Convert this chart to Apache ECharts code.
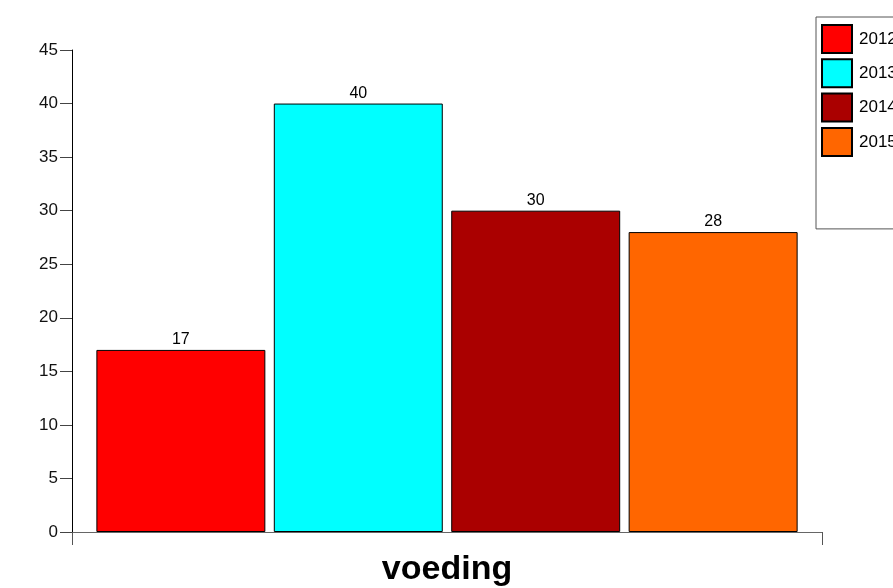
<!DOCTYPE html>
<html><head><meta charset="utf-8">
<script src="https://cdn.jsdelivr.net/npm/echarts@6/dist/echarts.min.js"></script>
<style>html,body{margin:0;padding:0;background:#fff}#c{width:893px;height:588px}</style>
</head><body><div id="c"></div>
<script>
const categories = ['voeding'];
const seriesNames = ['2012', '2013', '2014', '2015'];
const seriesValues = [[17], [40], [30], [28]];
const seriesColors = ['#FF0000', '#00FFFF', '#AA0000', '#FF6600'];
const yTicks = [0, 5, 10, 15, 20, 25, 30, 35, 40, 45];

const chart = echarts.init(document.getElementById('c'), null, {renderer: 'canvas'});
const font = 'Liberation Sans, Arial, sans-serif';
chart.setOption({
  animation: false,
  backgroundColor: '#fff',
  grid: {left: 72, right: 71, top: 50, bottom: 56, containLabel: false},
  legend: {
    orient: 'vertical', left: 816, top: 17,
    padding: [7, 20, 72, 5], itemGap: 4.3, itemWidth: 30, itemHeight: 28,
    backgroundColor: '#fff', borderColor: '#555', borderWidth: 1,
    icon: 'rect',
    textStyle: {fontFamily: font, fontSize: 17, color: '#000', padding: [0, 0, 0, 2]},
    data: seriesNames
  },
  xAxis: {
    type: 'category', data: categories,
    axisLine: {lineStyle: {color: '#666', width: 1}},
    axisTick: {show: true, length: 13, lineStyle: {color: '#555'}},
    axisLabel: {fontFamily: font, fontSize: 34, fontWeight: 'bold', color: '#000', margin: 21}
  },
  yAxis: {
    type: 'value', min: yTicks[0], max: yTicks[yTicks.length - 1], interval: 5,
    axisLine: {show: true, lineStyle: {color: '#000'}},
    axisTick: {show: true, length: 12, lineStyle: {color: '#444'}},
    splitLine: {show: false},
    axisLabel: {fontFamily: font, fontSize: 17, color: '#111', margin: 14}
  },
  series: seriesNames.map((n, i) => ({
    name: n, type: 'bar', data: seriesValues[i],
    barCategoryGap: '6.5%', barGap: '5%',
    itemStyle: {color: seriesColors[i], borderColor: '#000', borderWidth: 1},
    label: {show: true, position: 'top', distance: 2, fontFamily: font, fontSize: 16, color: '#000'}
  }))
});
</script></body></html>
